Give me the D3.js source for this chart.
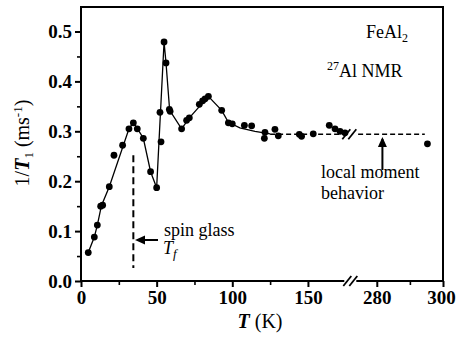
<!DOCTYPE html>
<html><head><meta charset="utf-8">
<script src="https://cdn.jsdelivr.net/npm/d3@7"></script>
<style>body{margin:0;background:#fff}svg{display:block}text{font-family:"Liberation Serif","Times New Roman",serif;fill:#000}</style>
</head><body><svg id="c" width="456" height="339"></svg>
<script>
// measured data: temperature (K) and 1/T1 (ms^-1)
const temps = [4.8,8.8,10.8,13,14.3,18.7,21.8,27.5,31.7,34.6,37.2,41.2,46,50,52.2,52.9,54.9,56.2,58.4,58.9,66.5,69.8,71.6,78.2,80.4,82,84.2,93,97.4,100,108,112.8,121.6,121.2,128.2,130.4,144.3,145.8,153.5,164.1,167.9,171.2,174.5,295.3];
const rates = [0.057,0.088,0.112,0.150,0.152,0.189,0.252,0.272,0.305,0.317,0.305,0.286,0.219,0.187,0.338,0.279,0.479,0.437,0.344,0.340,0.305,0.322,0.327,0.354,0.361,0.365,0.370,0.342,0.317,0.315,0.312,0.311,0.298,0.286,0.304,0.291,0.294,0.290,0.295,0.312,0.305,0.300,0.297,0.275];
// guide line through the data (solid) and local-moment level (dashed)
const guideT = [4.8,8.8,10.8,13.5,18.7,31.7,34.6,37.2,41.2,46,50,54.9,56.2,58.6,66.5,71.6,84.2,93,97.4,105,115,125];
const guideV = [0.057,0.088,0.112,0.151,0.189,0.305,0.318,0.306,0.286,0.219,0.187,0.479,0.437,0.342,0.305,0.327,0.370,0.342,0.318,0.307,0.300,0.295];
const localT = [125,294.5];
const localV = [0.294,0.294];
const freezeT = 34.6;
const freezeRange = [0.252,0.026];
const xMajor = [0,50,100,150,280,300];
const xMinor = [25,75,125,290];
const yMajor = [0,0.1,0.2,0.3,0.4,0.5];
const yMinor = [0.05,0.15,0.25,0.35,0.45];

const svg = d3.select("#c");
const L=81,R=443,T=7,B=281,brk=350.3;
const x = d3.scaleLinear().domain([0,178,272,300]).range([L,brk,brk,R]);
const y = d3.scaleLinear().domain([0,0.5/(B-31.5)*(B-T)]).range([B,T]);

// frame
svg.append("rect").attr("x",L).attr("y",T).attr("width",R-L).attr("height",B-T)
  .attr("fill","none").attr("stroke","#000").attr("stroke-width",2);

// x axis
const gx = svg.append("g").attr("transform",`translate(0,${B})`);
gx.call(d3.axisBottom(x).tickValues(xMajor).tickSize(6).tickSizeOuter(0).tickFormat(d3.format("d")));
gx.select(".domain").remove();
gx.selectAll("line").attr("stroke-width",2);
gx.selectAll("text").attr("font-size",19).attr("font-weight","bold").attr("dy","0.95em").attr("y",5)
  .attr("x",d=>d===300?-2:0);
const gx2 = svg.append("g").attr("transform",`translate(0,${B})`);
gx2.call(d3.axisBottom(x).tickValues(xMinor).tickSize(4).tickFormat(""));
gx2.select(".domain").remove();
gx2.selectAll("line").attr("stroke-width",1.6);

// y axis
const gy = svg.append("g").attr("transform",`translate(${L},0)`);
gy.call(d3.axisLeft(y).tickValues(yMajor).tickSize(6).tickSizeOuter(0).tickFormat(d3.format(".1f")));
gy.select(".domain").remove();
gy.selectAll("line").attr("stroke-width",2);
gy.selectAll("text").attr("font-size",19).attr("font-weight","bold").attr("x",-9).attr("dy","0.34em");
const gy2 = svg.append("g").attr("transform",`translate(${L},0)`);
gy2.call(d3.axisLeft(y).tickValues(yMinor).tickSize(4).tickFormat(""));
gy2.select(".domain").remove();
gy2.selectAll("line").attr("stroke-width",1.6);

// axis break on x axis
function slashes(cx,cy){
  [-3,3].forEach(o=>{
    svg.append("line").attr("x1",cx+o-4).attr("y1",cy+5).attr("x2",cx+o+4).attr("y2",cy-5)
      .attr("stroke","#000").attr("stroke-width",1.8);
  });
}
svg.append("rect").attr("x",brk-6).attr("y",B-3).attr("width",12).attr("height",6).attr("fill","#fff");
slashes(brk,B);

// guide lines
const line = d3.line().x(d=>x(d[0])).y(d=>y(d[1]));
svg.append("path").datum(guideT.map((t,i)=>[t,guideV[i]])).attr("d",line)
  .attr("fill","none").attr("stroke","#000").attr("stroke-width",1.3);
svg.append("path").datum(localT.map((t,i)=>[t,localV[i]])).attr("d",line)
  .attr("fill","none").attr("stroke","#000").attr("stroke-width",1.6).attr("stroke-dasharray","5,3");
const yb = y(localV[0]);
svg.append("rect").attr("x",brk-6).attr("y",yb-3).attr("width",12).attr("height",6).attr("fill","#fff");
slashes(brk-1,yb);

// freezing temperature
svg.append("line").attr("x1",x(freezeT)).attr("x2",x(freezeT)).attr("y1",y(freezeRange[0])).attr("y2",y(freezeRange[1]))
  .attr("stroke","#000").attr("stroke-width",2).attr("stroke-dasharray","7,4");

// dots
svg.append("g").selectAll("circle").data(temps.map((t,i)=>[t,rates[i]])).join("circle")
  .attr("cx",d=>x(d[0])).attr("cy",d=>y(d[1])).attr("r",3.4).attr("fill","#000");

// arrows
function arrow(x1,y1,x2,y2){
  svg.append("line").attr("x1",x1).attr("y1",y1).attr("x2",x2).attr("y2",y2).attr("stroke","#000").attr("stroke-width",2);
  const a=Math.atan2(y2-y1,x2-x1), h=8, w=4.5;
  const p=[[x2+2*Math.cos(a),y2+2*Math.sin(a)],
    [x2-h*Math.cos(a)+w*Math.sin(a), y2-h*Math.sin(a)-w*Math.cos(a)],
    [x2-h*Math.cos(a)-w*Math.sin(a), y2-h*Math.sin(a)+w*Math.cos(a)]];
  svg.append("path").attr("d","M"+p.join("L")+"Z").attr("fill","#000");
}
arrow(158,240,137,240);
arrow(x(281.7),170,x(281.7),139);

// annotations
svg.append("text").attr("x",164).attr("y",236).attr("font-size",18).text("spin glass");
const t2 = svg.append("text").attr("x",163).attr("y",254).attr("font-size",18).attr("font-style","italic");
t2.append("tspan").text("T");
t2.append("tspan").attr("font-size",13).attr("dy",4).text("f");
svg.append("text").attr("x",321).attr("y",178).attr("font-size",18).text("local moment");
svg.append("text").attr("x",321).attr("y",199).attr("font-size",18).text("behavior");
const f = svg.append("text").attr("x",366).attr("y",38).attr("font-size",18);
f.append("tspan").text("FeAl");
f.append("tspan").attr("font-size",12).attr("dy",4).text("2");
const n = svg.append("text").attr("x",327).attr("y",77).attr("font-size",18);
n.append("tspan").attr("font-size",12).attr("dy",-7).text("27");
n.append("tspan").attr("dy",7).text("Al NMR");

// axis titles
const xl = svg.append("text").attr("x",260).attr("y",328).attr("font-size",20).attr("text-anchor","middle");
xl.append("tspan").attr("font-style","italic").attr("font-weight","bold").text("T");
xl.append("tspan").text(" (K)");
const yl = svg.append("text").attr("transform","translate(29,143) rotate(-90)").attr("font-size",20).attr("text-anchor","middle");
yl.append("tspan").text("1/");
yl.append("tspan").attr("font-style","italic").attr("font-weight","bold").text("T");
yl.append("tspan").attr("font-size",13).attr("dy",4).text("1");
yl.append("tspan").attr("dy",-4).text(" (ms");
yl.append("tspan").attr("font-size",13).attr("dy",-7).text("-1");
yl.append("tspan").attr("dy",7).text(")");
</script></body></html>
